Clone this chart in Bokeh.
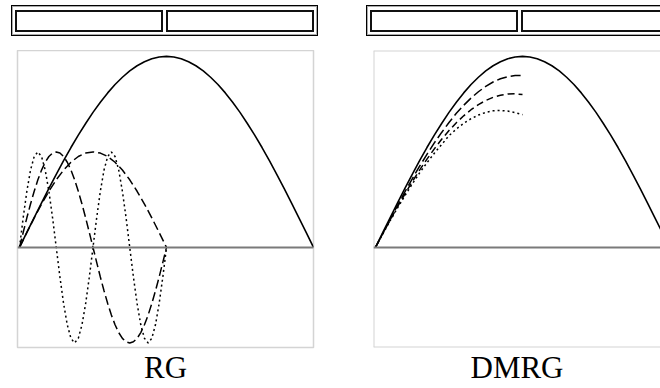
from bokeh.plotting import figure
from bokeh.layouts import row, column
from bokeh.models import Range1d, Span, Title, Div
from bokeh.embed import file_html
from bokeh.resources import INLINE

# ---- data (position along the system, 0..1) ----
x_exact = [0.0, 0.025, 0.05, 0.075, 0.1, 0.125, 0.15, 0.175, 0.2, 0.225, 0.25,
           0.275, 0.3, 0.325, 0.35, 0.375, 0.4, 0.425, 0.45, 0.475, 0.5,
           0.525, 0.55, 0.575, 0.6, 0.625, 0.65, 0.675, 0.7, 0.725, 0.75,
           0.775, 0.8, 0.825, 0.85, 0.875, 0.9, 0.925, 0.95, 0.975, 1.0]
y_exact = [0.0, 0.079, 0.156, 0.233, 0.309, 0.383, 0.454, 0.523, 0.588, 0.649, 0.707,
           0.760, 0.809, 0.853, 0.891, 0.924, 0.951, 0.972, 0.988, 0.997, 1.0,
           0.997, 0.988, 0.972, 0.951, 0.924, 0.891, 0.853, 0.809, 0.760, 0.707,
           0.649, 0.588, 0.523, 0.454, 0.383, 0.309, 0.233, 0.156, 0.079, 0.0]

x_half = [0.0, 0.025, 0.05, 0.075, 0.1, 0.125, 0.15, 0.175, 0.2, 0.225, 0.25,
          0.275, 0.3, 0.325, 0.35, 0.375, 0.4, 0.425, 0.45, 0.475, 0.5]
x_fine = [0.0, 0.0125, 0.025, 0.0375, 0.05, 0.0625, 0.075, 0.0875, 0.1, 0.1125,
          0.125, 0.1375, 0.15, 0.1625, 0.175, 0.1875, 0.2, 0.2125, 0.225, 0.2375,
          0.25, 0.2625, 0.275, 0.2875, 0.3, 0.3125, 0.325, 0.3375, 0.35, 0.3625,
          0.375, 0.3875, 0.4, 0.4125, 0.425, 0.4375, 0.45, 0.4625, 0.475, 0.4875, 0.5]

# RG panel approximations
rg_state1 = [0.0, 0.078, 0.155, 0.227, 0.294, 0.354, 0.405, 0.446, 0.476, 0.494, 0.5,
             0.494, 0.476, 0.446, 0.405, 0.354, 0.294, 0.227, 0.155, 0.078, 0.0]
rg_state2 = [0.0, 0.078, 0.155, 0.227, 0.294, 0.354, 0.405, 0.446, 0.476, 0.494,
             0.5, 0.494, 0.476, 0.446, 0.405, 0.354, 0.294, 0.227, 0.155, 0.078,
             0.0, -0.078, -0.155, -0.227, -0.294, -0.354, -0.405, -0.446, -0.476, -0.494,
             -0.5, -0.494, -0.476, -0.446, -0.405, -0.354, -0.294, -0.227, -0.155, -0.078, 0.0]
rg_state4 = [0.0, 0.155, 0.294, 0.405, 0.476, 0.5, 0.476, 0.405, 0.294, 0.155,
             0.0, -0.155, -0.294, -0.405, -0.476, -0.5, -0.476, -0.405, -0.294, -0.155,
             0.0, 0.155, 0.294, 0.405, 0.476, 0.5, 0.476, 0.405, 0.294, 0.155,
             0.0, -0.155, -0.294, -0.405, -0.476, -0.5, -0.476, -0.405, -0.294, -0.155, 0.0]

# DMRG panel approximations
dmrg_a = [0.0, 0.074, 0.148, 0.220, 0.291, 0.359, 0.425, 0.487, 0.547, 0.602, 0.654,
          0.702, 0.744, 0.782, 0.815, 0.843, 0.866, 0.883, 0.894, 0.900, 0.9]
dmrg_b = [0.0, 0.073, 0.143, 0.213, 0.279, 0.344, 0.405, 0.462, 0.516, 0.566, 0.612,
          0.653, 0.689, 0.721, 0.748, 0.769, 0.786, 0.797, 0.803, 0.804, 0.80]
dmrg_c = [0.0, 0.071, 0.140, 0.207, 0.271, 0.332, 0.390, 0.443, 0.493, 0.539, 0.585,
          0.620, 0.650, 0.674, 0.693, 0.707, 0.715, 0.717, 0.714, 0.706, 0.695]

panel_titles = ["RG", "DMRG"]

SERIF = "Liberation Serif"


def box_div(width, left):
    inner = ('<div style="box-sizing:border-box;width:148px;min-width:148px;height:22px;'
             'border:2px solid #111;flex:none;"></div>')
    html = ('<div style="padding:5px 0 0 %dpx;margin:0;width:330px;">'
            '<div style="box-sizing:border-box;width:307px;min-width:307px;max-width:none;'
            'height:31px;border:1px solid #000;box-shadow:inset 0 0 0 1px #aaa;'
            'padding:4px 3px 3px 3px;display:flex;gap:3px;">%s%s</div></div>'
            % (left, inner, inner))
    return Div(text=html, width=width, height=50, margin=0,
               styles={"overflow": "hidden"})


def panel(width, x_end, mb_right, title, title_offset):
    p = figure(width=width, height=338, toolbar_location=None, output_backend="svg",
               x_range=Range1d(-0.0068, x_end), y_range=Range1d(-0.524, 1.031),
               min_border_left=17, min_border_right=mb_right, min_border_top=0,
               min_border_bottom=41)
    p.axis.visible = False
    p.grid.visible = False
    p.add_layout(Span(location=0, dimension="width", line_color="#7a7a7a", line_width=2))
    t = Title(text=title, align="center", text_font=SERIF, text_font_size="31px",
              text_font_style="normal", text_color="black", offset=title_offset,
              standoff=0)
    p.add_layout(t, "below")
    return p


# Left (RG)
pl = panel(356, 1.0, 43, panel_titles[0], 0)
pl.outline_line_color = "#d4d4d4"
pl.outline_line_width = 1.5
pl.line(x_exact, y_exact, line_color="black", line_width=1.6)
pl.line(x_half, rg_state1, line_color="black", line_width=1.5, line_dash="9 4")
pl.line(x_fine, rg_state2, line_color="black", line_width=1.5, line_dash="9 4")
pl.line(x_fine, rg_state4, line_color="black", line_width=1.5, line_dash="2 3")

# Right (DMRG) - frame runs past the window edge in the original
x_end_r = -0.0068 + 287 / 294
pr = panel(304, x_end_r, 0, panel_titles[1], 5)
pr.outline_line_color = None
pr.segment(x0=[-0.0068, -0.0068, -0.0068], y0=[-0.524, 1.031, -0.524],
           x1=[-0.0068, x_end_r, x_end_r], y1=[1.031, 1.031, -0.524],
           line_color="#d4d4d4", line_width=2)
pr.line(x_exact, y_exact, line_color="black", line_width=1.6)
pr.line(x_half, dmrg_a, line_color="black", line_width=1.5, line_dash="10 4")
pr.line(x_half, dmrg_b, line_color="black", line_width=1.5, line_dash="7 4")
pr.line(x_half, dmrg_c, line_color="black", line_width=1.5, line_dash="2 3")

bl = box_div(356, 11)
br = box_div(304, 10)

root = row(column(bl, pl), column(br, pr))

open("out.html", "w").write(file_html(root, INLINE))
